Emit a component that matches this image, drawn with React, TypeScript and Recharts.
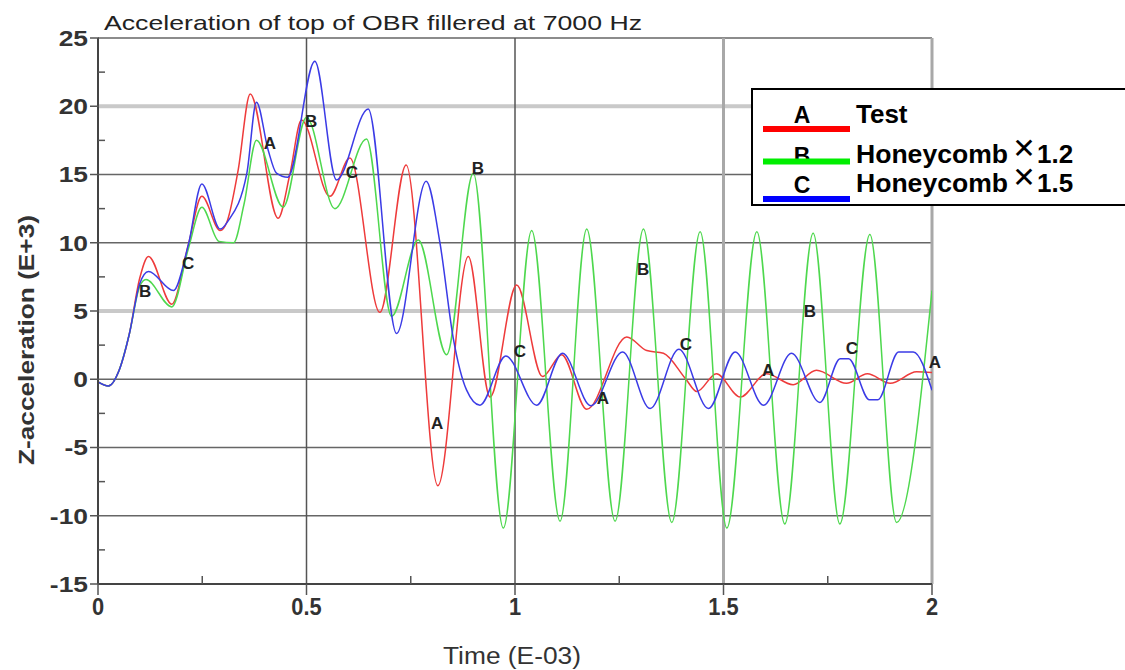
import React from 'react';
import { LineChart, Line, XAxis, YAxis, ReferenceLine, ReferenceDot } from 'recharts';

// ---------- data ----------
const timeTicks = [0, 0.25, 0.5, 0.75, 1, 1.25, 1.5, 1.75, 2];
const accelTicks = [-15, -12.5, -10, -7.5, -5, -2.5, 0, 2.5, 5, 7.5, 10, 12.5, 15, 17.5, 20, 22.5, 25];

const seriesLetters = ['A', 'B', 'C'];
const seriesNames = ['Test', 'Honeycomb', 'Honeycomb'];
const seriesFactors = ['', '1.2', '1.5'];

const testTime = [0, 0.025, 0.05, 0.075, 0.1, 0.121, 0.177, 0.217, 0.249, 0.293, 0.31, 0.336, 0.365, 0.432, 0.46, 0.488, 0.556, 0.604, 0.676, 0.739, 0.815, 0.888, 0.94, 1.004, 1.066, 1.112, 1.172, 1.268, 1.316, 1.356, 1.41, 1.436, 1.483, 1.54, 1.603, 1.667, 1.723, 1.795, 1.845, 1.9, 1.963, 2.0];
const testAccel = [-0.2, -0.5, 0.6, 3.3, 7.4, 9.0, 5.5, 9.9, 13.4, 10.9, 11.6, 15.3, 20.9, 11.8, 15.0, 19.0, 13.4, 16.2, 4.9, 15.7, -7.8, 9.0, -1.3, 6.9, 0.2, 1.8, -2.2, 3.1, 2.1, 1.9, 0.0, -0.9, 0.4, -1.3, 0.4, -0.4, 0.66, -0.3, 0.4, -0.3, 0.55, 0.5];

const hc12Time = [0, 0.025, 0.05, 0.075, 0.1, 0.115, 0.177, 0.217, 0.249, 0.29, 0.325, 0.35, 0.38, 0.444, 0.5, 0.568, 0.644, 0.704, 0.768, 0.836, 0.9, 0.972, 1.04, 1.108, 1.172, 1.24, 1.308, 1.376, 1.444, 1.508, 1.58, 1.647, 1.715, 1.779, 1.851, 1.915, 2.0];
const hc12Accel = [-0.2, -0.5, 0.6, 3.3, 6.8, 7.3, 5.3, 9.6, 12.6, 10.1, 10.0, 12.8, 17.5, 12.6, 19.2, 12.5, 17.6, 4.6, 10.2, 1.8, 15.1, -10.9, 10.9, -10.4, 11.0, -10.4, 11.0, -10.5, 10.8, -10.9, 10.8, -10.6, 10.7, -10.6, 10.6, -10.5, 6.5];

const hc15Time = [0, 0.025, 0.05, 0.075, 0.1, 0.121, 0.181, 0.217, 0.249, 0.293, 0.312, 0.357, 0.38, 0.408, 0.428, 0.455, 0.52, 0.572, 0.648, 0.716, 0.787, 0.82, 0.852, 0.884, 0.916, 0.978, 1.052, 1.114, 1.182, 1.258, 1.324, 1.393, 1.464, 1.528, 1.596, 1.663, 1.731, 1.78, 1.8, 1.85, 1.87, 1.92, 1.955, 2.0];
const hc15Accel = [-0.2, -0.5, 0.6, 3.3, 7.0, 7.9, 6.5, 9.9, 14.3, 11.0, 11.6, 15.1, 20.3, 16.8, 15.1, 14.8, 23.3, 14.6, 19.8, 3.35, 14.5, 10.0, 3.0, -0.8, -1.9, 1.7, -1.9, 1.9, -1.95, 2.0, -2.15, 2.2, -2.15, 2.0, -1.9, 1.9, -1.7, 1.5, 1.5, -1.5, -1.5, 2.0, 2.0, -0.8];

const markerTime = [0.113, 0.216, 0.412, 0.511, 0.609, 0.813, 0.911, 1.012, 1.211, 1.307, 1.41, 1.607, 1.707, 1.808, 2.007];
const markerAccel = [6.5, 8.5, 17.3, 18.9, 15.2, -3.2, 15.5, 2.1, -1.4, 8.1, 2.6, 0.7, 5.0, 2.3, 1.25];
const markerLetter = ['B', 'C', 'A', 'B', 'C', 'A', 'B', 'C', 'A', 'B', 'C', 'A', 'B', 'C', 'A'];

const hGridValues = [25, 20, 15, 10, 5, 0, -5, -10];
const vGridValues = [0.5, 1, 1.5, 2];

// ---------- styles ----------
const FONT = '"Liberation Sans", Arial, Helvetica, sans-serif';
const lineColors = ['#ee3b3b', '#4ed84e', '#3b3be6'];
const legendColors = ['#ff0000', '#00ee00', '#0000ff'];
const lightGrid = new Set([20, 5]);

const toPoints = (ts: number[], vs: number[]) => ts.map((t, i) => ({ t, v: vs[i] }));
const seriesData = [toPoints(testTime, testAccel), toPoints(hc12Time, hc12Accel), toPoints(hc15Time, hc15Accel)];

const XTick = (props: any) => {
  const { x, y, payload } = props;
  const v = payload.value;
  const major = Math.abs(v * 2 - Math.round(v * 2)) < 1e-6;
  if (!major) return <line x1={x} y1={y} x2={x} y2={y - 8} stroke="#555" strokeWidth={1.5} />;
  return (
    <g>
      <line x1={x} y1={y} x2={x} y2={y + 11} stroke="#555" strokeWidth={1.5} />
      <text x={x} y={y + 31} textAnchor="middle" fontFamily={FONT} fontSize={23} fontWeight="bold" fill="#333"
        transform={`translate(${x},0) scale(0.95,1) translate(${-x},0)`}>
        {String(v)}
      </text>
    </g>
  );
};

const YTick = (props: any) => {
  const { x, y, payload } = props;
  const v = payload.value;
  const major = Math.abs(v / 5 - Math.round(v / 5)) < 1e-6;
  if (!major) return <line x1={x} y1={y} x2={x + 7} y2={y} stroke="#555" strokeWidth={1.5} />;
  return (
    <g>
      <line x1={x - 8} y1={y} x2={x + 1} y2={y} stroke="#555" strokeWidth={1.5} />
      <text x={x - 10} y={y + 8} textAnchor="end" fontFamily={FONT} fontSize={22} fontWeight="bold" fill="#333"
        transform={`translate(${x - 10},0) scale(1.2,1) translate(${-(x - 10)},0)`}>
        {String(v)}
      </text>
    </g>
  );
};

const Letter = (props: any) => {
  const { cx, cy, letter } = props;
  return (
    <text x={cx} y={cy + 6} textAnchor="middle" fontFamily={FONT} fontSize={17} fontWeight="bold" fill="#222">
      {letter}
    </text>
  );
};

const legendRows = [
  { letterY: 123, lineY: 129, nameY: 123 },
  { letterY: 164, lineY: 161.5, nameY: 163 },
  { letterY: 193, lineY: 199, nameY: 192 },
];

export default function App() {
  return (
    <div style={{ position: 'absolute', left: 0, top: 0, width: 1125, height: 670, background: '#fff' }}>
      <LineChart width={1125} height={670} margin={{ top: 38, right: 193, bottom: 0, left: 0 }}>
        {hGridValues.map((v) => (
          <ReferenceLine key={'h' + v} y={v} stroke={lightGrid.has(v) ? '#c9c9c9' : '#666'}
            strokeWidth={lightGrid.has(v) ? 4 : 1.5} ifOverflow="visible" />
        ))}
        {vGridValues.map((t) => (
          <ReferenceLine key={'v' + t} x={t} stroke={t >= 1.5 ? '#a8a8a8' : '#555'}
            strokeWidth={t >= 1.5 ? 3 : 1.5} ifOverflow="visible" />
        ))}
        <XAxis dataKey="t" type="number" domain={[0, 2]} ticks={timeTicks} interval={0} height={86}
          tickSize={0} tickMargin={0} tickLine={false} axisLine={{ stroke: '#444', strokeWidth: 2 }}
          tick={(p: any) => <XTick {...p} />} allowDataOverflow />
        <YAxis type="number" domain={[-15, 25]} ticks={accelTicks} interval={0} width={98}
          tickSize={0} tickMargin={0} tickLine={false} axisLine={{ stroke: '#444', strokeWidth: 2 }}
          tick={(p: any) => <YTick {...p} />} allowDataOverflow />
        {seriesData.map((d, i) => (
          <Line key={seriesLetters[i]} data={d} dataKey="v" type="monotone" stroke={lineColors[i]}
            strokeWidth={1.5} dot={false} activeDot={false} isAnimationActive={false} />
        ))}
        {markerTime.map((t, i) => (
          <ReferenceDot key={'m' + i} x={t} y={markerAccel[i]} r={0} ifOverflow="visible"
            shape={(p: any) => <Letter {...p} letter={markerLetter[i]} />} />
        ))}
      </LineChart>
      <svg width={1125} height={670} style={{ position: 'absolute', left: 0, top: 0, pointerEvents: 'none' }}>
        <text x={104} y={30} fontFamily={FONT} fontSize={21} fill="#222" textLength={538} lengthAdjust="spacingAndGlyphs">
          Acceleration of top of OBR fillered at 7000 Hz
        </text>
        <text x={443} y={664} fontFamily={FONT} fontSize={23} fill="#333" textLength={138} lengthAdjust="spacingAndGlyphs">
          Time (E-03)
        </text>
        <text transform="translate(34,340) rotate(-90)" textAnchor="middle" fontFamily={FONT} fontSize={22}
          fontWeight="bold" fill="#333" textLength={250} lengthAdjust="spacingAndGlyphs">
          Z-acceleration (E+3)
        </text>
        <rect x={752} y={89} width={380} height={116} fill="#fff" stroke="#000" strokeWidth={2} />
        {legendRows.map((r, i) => (
          <g key={'lg' + i}>
            <text x={802} y={r.letterY} textAnchor="middle" fontFamily={FONT} fontSize={23} fontWeight="bold" fill="#000">
              {seriesLetters[i]}
            </text>
            <line x1={763} y1={r.lineY} x2={850} y2={r.lineY} stroke={legendColors[i]} strokeWidth={6} />
            <text x={856} y={r.nameY} fontFamily={FONT} fontSize={26} fontWeight="bold" fill="#000"
              textLength={seriesFactors[i] ? 152 : undefined} lengthAdjust="spacingAndGlyphs">
              {seriesNames[i]}
            </text>
            {seriesFactors[i] ? (
              <>
                <text x={1024} y={r.nameY - 5} textAnchor="middle" fontFamily='"DejaVu Sans", sans-serif'
                  fontSize={28} fontWeight="bold" fill="#000">
                  ✕
                </text>
                <text x={1037} y={r.nameY} fontFamily={FONT} fontSize={26} fontWeight="bold" fill="#000">
                  {seriesFactors[i]}
                </text>
              </>
            ) : null}
          </g>
        ))}
      </svg>
    </div>
  );
}
